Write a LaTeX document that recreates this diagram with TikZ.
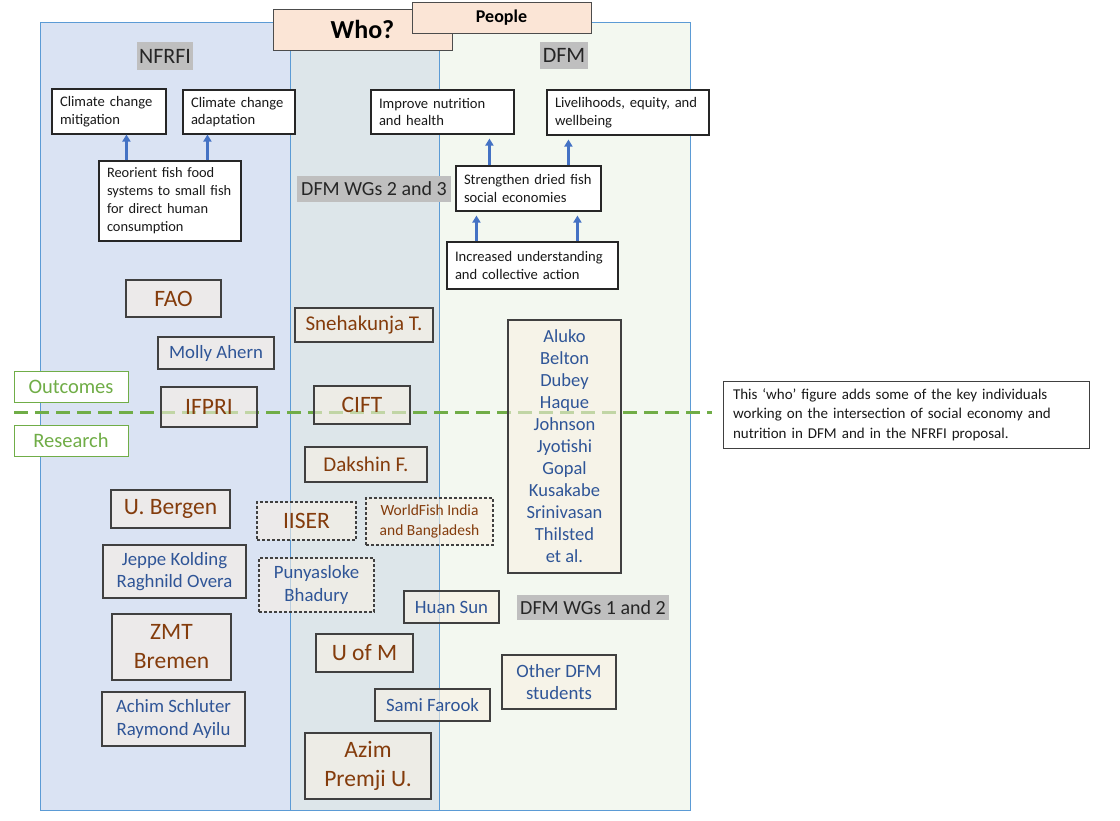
\documentclass[tikz,border=0pt]{standalone}
\usepackage{fontspec}
\setmainfont{Carlito}
\usetikzlibrary{arrows.meta,calc}
\definecolor{bluebg}{RGB}{218,227,243}
\definecolor{midbg}{RGB}{221,230,234}
\definecolor{greenbg}{RGB}{243,248,240}
\definecolor{panelline}{RGB}{91,155,213}
\definecolor{peach}{RGB}{251,229,214}
\definecolor{labelgray}{RGB}{191,191,191}
\definecolor{brownt}{RGB}{132,60,12}
\definecolor{bluet}{RGB}{47,85,151}
\definecolor{arrowblue}{RGB}{68,114,196}
\definecolor{greenl}{RGB}{112,173,71}
\definecolor{boxfill}{RGB}{248,240,228}
\begin{document}
\begin{tikzpicture}[x=1pt,y=-1pt,
  goal/.style={draw=black!85, line width=1.1pt, fill=white, align=left, inner xsep=8pt,
     font={\fontsize{14.6}{17.5}\selectfont}, text=black!90},
  graylabel/.style={fill=labelgray, inner sep=0pt, text=black!85},
  pbox/.style={draw=black!75, line width=1.1pt, fill=boxfill, fill opacity=0.6, text opacity=1, draw opacity=1, align=center, inner sep=1pt},
  dbox/.style={pbox, dashed, dash pattern=on 3pt off 2pt},
  brownbig/.style={text=brownt, font={\fontsize{23.5}{29}\selectfont}},
  brownmid/.style={text=brownt, font={\fontsize{21}{24}\selectfont}},
  bluename/.style={text=bluet, font={\fontsize{18.8}{22.5}\selectfont}},
  lvl/.style={draw=greenl, line width=1pt, fill=white, text=greenl, font={\fontsize{20.5}{22}\selectfont}, minimum width=114pt, minimum height=31pt, inner sep=0pt},
  arr/.style={draw=arrowblue, line width=2.2pt, -{Triangle[length=7pt,width=8pt]}},
  head/.style={draw=black!70, line width=1pt, fill=peach, inner sep=0pt}
]
\useasboundingbox (0,0) rectangle (1120,820);
% panels
\fill[bluebg] (40,22) rectangle (290,810);
\fill[midbg] (290,22) rectangle (439,810);
\fill[greenbg] (439,22) rectangle (690,810);
\draw[panelline, line width=0.8pt] (40,22) rectangle (439,810);
\draw[panelline, line width=0.8pt] (290,22) rectangle (690,810);

% headings
\node[head, minimum width=179pt, minimum height=41pt, font={\fontsize{26}{30}\selectfont\bfseries}] (who) at (362.5,29.5) {Who?};
\node[head, minimum width=179pt, minimum height=31pt, font={\fontsize{18}{20}\selectfont\bfseries}] (people) at (501.5,17.5) {People};

\node[graylabel, minimum width=56pt, minimum height=28pt, font={\fontsize{22}{24}\selectfont}] (nfrfi) at (165,56) {NFRFI};
\node[graylabel, minimum width=48pt, minimum height=27pt, font={\fontsize{22}{24}\selectfont}] (dfm) at (564,55.5) {DFM};
\node[graylabel, minimum width=154pt, minimum height=26pt, font={\fontsize{20}{24}\selectfont}] (wg23) at (374,189) {DFM WGs 2 and 3};
\node[graylabel, minimum width=152pt, minimum height=25pt, font={\fontsize{20}{24}\selectfont}] (wg12) at (593,607.5) {DFM WGs 1 and 2};

% goal boxes
\node[goal, minimum width=114pt, minimum height=45pt, text width=98pt] (mit) at (109,111.5) {Climate change\\mitigation};
\node[goal, minimum width=112pt, minimum height=44pt, text width=96pt] (adapt) at (239,112) {Climate change\\adaptation};
\node[goal, minimum width=143pt, minimum height=44pt, text width=127pt] (nutr) at (442.5,112) {Improve nutrition\\and health};
\node[goal, minimum width=162pt, minimum height=45pt, text width=146pt] (live) at (628,112.5) {Livelihoods, equity, and\\wellbeing};
\node[goal, minimum width=142pt, minimum height=80pt, text width=134pt, inner xsep=4pt, font={\fontsize{14.4}{18}\selectfont}] (reorient) at (170,201) {\hspace*{4pt}Reorient fish food\\\hspace*{4pt}systems to small fish\\\hspace*{4pt}for direct human\\\hspace*{4pt}consumption};
\node[goal, minimum width=145pt, minimum height=45pt, text width=129pt] (strength) at (528.5,188.5) {Strengthen dried fish\\social economies};
\node[goal, minimum width=171pt, minimum height=47pt, text width=155pt] (incr) at (532.5,265.5) {Increased understanding\\and collective action};

% arrows
\path ($(reorient.north west)+(28,0)$) coordinate (r1) ($(reorient.north west)+(109,0)$) coordinate (r2);
\draw[arr] (r1) -- (r1 |- mit.south);
\draw[arr] (r2) -- (r2 |- adapt.south);
\path ($(strength.north west)+(34,0)$) coordinate (s1) ($(strength.north west)+(113,0)$) coordinate (s2);
\draw[arr, shorten >=4pt] (s1) -- (s1 |- nutr.south);
\draw[arr, shorten >=4pt] (s2) -- (s2 |- live.south);
\path ($(incr.north west)+(30,0)$) coordinate (i1) ($(incr.north west)+(131,0)$) coordinate (i2);
\draw[arr, shorten >=4pt] (i1) -- (i1 |- strength.south);
\draw[arr, shorten >=4pt] (i2) -- (i2 |- strength.south);

% dashed divider (beneath the semi-transparent boxes)
\coordinate (dl) at (14,412);
\coordinate (dr) at (712,412);
\draw[greenl, line width=3pt, dash pattern=on 14pt off 7pt] (dl) -- (dr);

% people boxes
\node[pbox, brownbig, minimum width=95pt, minimum height=37pt] (fao) at (173.5,298.5) {FAO};
\node[pbox, bluename, minimum width=116pt, minimum height=32pt] (molly) at (216,353) {Molly Ahern};
\node[pbox, brownbig, minimum width=96pt, minimum height=40pt] (ifpri) at (209,407) {IFPRI};
\node[pbox, brownmid, minimum width=138pt, minimum height=34pt] (sneha) at (364,325) {Snehakunja T.};
\node[pbox, brownbig, minimum width=96pt, minimum height=38pt] (cift) at (362,405) {CIFT};
\node[pbox, brownmid, minimum width=122pt, minimum height=35pt] (dakshin) at (366,464.5) {Dakshin F.};
\node[pbox, brownbig, minimum width=119pt, minimum height=38pt] (bergen) at (170.5,509) {U. Bergen};
\node[dbox, brownbig, minimum width=99pt, minimum height=38pt] (iiser) at (306.5,521) {IISER};
\node[dbox, text=brownt, font={\fontsize{15.5}{20}\selectfont}, minimum width=127pt, minimum height=47pt] (worldfish) at (429.5,521.5) {WorldFish India\\and Bangladesh};
\node[pbox, bluename, minimum width=113pt, minimum height=253pt, font={\fontsize{18.5}{22}\selectfont}] (dfmlist) at (564.5,446.5) {Aluko\\Belton\\Dubey\\Haque\\Johnson\\Jyotishi\\Gopal\\Kusakabe\\Srinivasan\\Thilsted\\et al.};
\node[pbox, bluename, minimum width=143pt, minimum height=53pt] (jeppe) at (174.5,571.5) {Jeppe Kolding\\Raghnild Overa};
\node[dbox, bluename, minimum width=115pt, minimum height=54pt] (punya) at (316.5,585) {Punyasloke\\Bhadury};
\node[pbox, bluename, minimum width=95pt, minimum height=32pt] (huan) at (451.5,607) {Huan Sun};
\node[pbox, brownbig, minimum width=119pt, minimum height=66pt] (zmt) at (171.5,647) {ZMT\\Bremen};
\node[pbox, brownbig, minimum width=97pt, minimum height=38pt] (uofm) at (364.5,653) {U of M};
\node[pbox, bluename, minimum width=114pt, minimum height=54pt] (other) at (559,682) {Other DFM\\students};
\node[pbox, bluename, minimum width=115pt, minimum height=32pt] (sami) at (432.5,705) {Sami Farook};
\node[pbox, bluename, minimum width=143pt, minimum height=54pt] (achim) at (173.5,719) {Achim Schluter\\Raymond Ayilu};
\node[pbox, brownbig, minimum width=126pt, minimum height=66pt] (azim) at (368,766) {Azim\\Premji U.};

% levels
\node[lvl] (outcomes) at (71,386.5) {Outcomes};
\node[lvl] (research) at (71,440.5) {Research};

% note
\node[draw=black!75, line width=1pt, fill=white, minimum width=366pt, minimum height=67pt, text width=346pt, align=left, font={\fontsize{15}{19.5}\selectfont}, text=black!90] (note) at (906,414.5) {This ‘who’ figure adds some of the key individuals\\working on the intersection of social economy and\\nutrition in DFM and in the NFRFI proposal.};
\end{tikzpicture}
\end{document}
